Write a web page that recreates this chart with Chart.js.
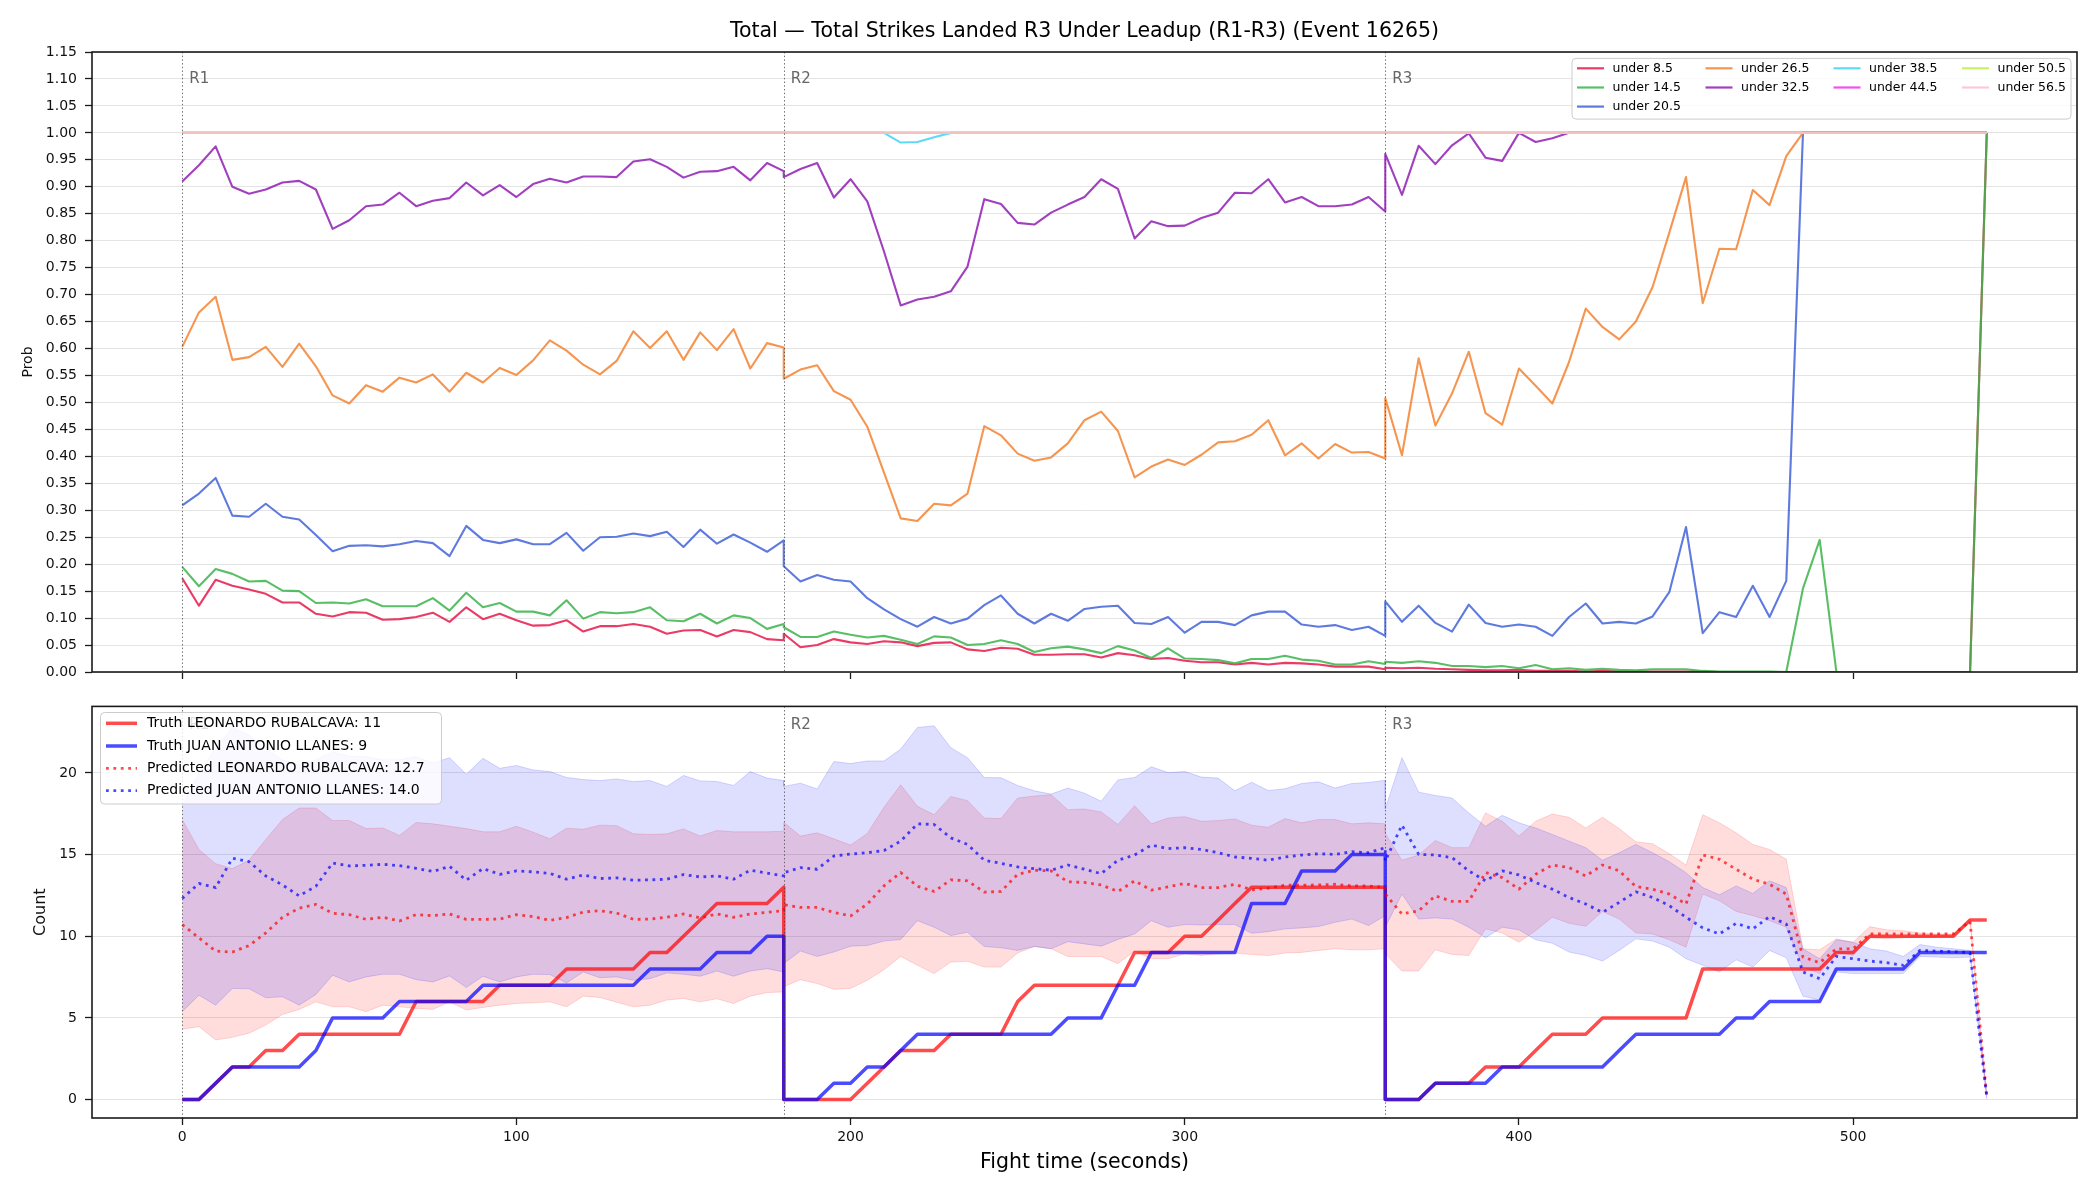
<!DOCTYPE html>
<html>
<head>
<meta charset="utf-8">
<script src="https://cdn.jsdelivr.net/npm/chart.js@4.4.1/dist/chart.umd.min.js"></script>
<style>
  html, body { margin: 0; padding: 0; background: #fff; }
  #wrap { position: relative; width: 2100px; height: 1200px; background: #fff; }
  canvas { position: absolute; left: 0; }
  #top { top: 0; }
  #bottom { top: 690px; }
</style>
</head>
<body>
<div id="wrap">
  <canvas id="top" width="2100" height="690"></canvas>
  <canvas id="bottom" width="2100" height="510"></canvas>
</div>
<script>
(function () {
  'use strict';

  const chartTitle = 'Total \u2014 Total Strikes Landed R3 Under Leadup (R1-R3) (Event 16265)';
  const roundNames = ['R1', 'R2', 'R3'];
  const roundStarts = [0, 180, 360];
  // samples every 5 s inside a round; the round end is repeated as the next round's start
  const roundOffsets = [0, 5, 10, 15, 20, 25, 30, 35, 40, 45, 50, 55, 60, 65, 70, 75, 80, 85, 90,
    95, 100, 105, 110, 115, 120, 125, 130, 135, 140, 145, 150, 155, 160, 165, 170, 175, 180];

  const xTicks = [0, 100, 200, 300, 400, 500];
  const probTicks = [0, 0.05, 0.1, 0.15, 0.2, 0.25, 0.3, 0.35, 0.4, 0.45, 0.5, 0.55, 0.6, 0.65,
    0.7, 0.75, 0.8, 0.85, 0.9, 0.95, 1, 1.05, 1.1, 1.15];
  const countTicks = [0, 5, 10, 15, 20];

  // ---- top panel: P(total under line) ----
  const underLabels = ['under 8.5', 'under 14.5', 'under 20.5', 'under 26.5', 'under 32.5',
    'under 38.5', 'under 44.5', 'under 50.5', 'under 56.5'];
  const underColors = ['rgba(230,25,75,0.85)', 'rgba(60,180,75,0.85)', 'rgba(67,99,216,0.85)',
    'rgba(245,130,49,0.85)', 'rgba(145,30,180,0.85)', 'rgba(66,212,244,0.85)',
    'rgba(240,50,230,0.85)', 'rgba(191,239,69,0.85)', 'rgba(250,190,212,0.85)'];

  const under85 = [
    .174,.123,.171,.160,.153,.145,.129,.129,.108,.103,.111,.110,.097,.098,.102,.110,.093,.120,.098,.108,.096,.086,.087,.096,.075,.085,.085,.089,.084,.071,.077,.078,.066,.078,.074,.061,.059,
    .071,.046,.050,.061,.055,.052,.057,.055,.048,.054,.055,.042,.039,.045,.043,.032,.032,.033,.033,.027,.035,.031,.024,.026,.021,.018,.018,.014,.017,.014,.017,.016,.014,.010,.010,.010,.005,
    .008,.007,.008,.006,.005,.004,.003,.003,.004,.002,.002,.002,.001,.002,.001,.001,.001,.001,.001,.001,0,0,0,0,0,0,0,0,0,0,0,0,0,0,0,0,1];
  const under145 = [
    .195,.159,.191,.182,.168,.169,.151,.150,.128,.129,.127,.135,.122,.122,.122,.137,.114,.147,.120,.128,.112,.112,.105,.133,.099,.111,.109,.111,.120,.096,.094,.108,.090,.105,.100,.080,.089,
    .083,.065,.065,.075,.069,.064,.067,.060,.052,.066,.064,.050,.052,.059,.052,.037,.044,.047,.042,.035,.048,.040,.026,.044,.025,.024,.022,.016,.024,.024,.030,.023,.021,.014,.014,.020,.015,
    .019,.017,.020,.017,.011,.011,.009,.011,.007,.013,.005,.007,.004,.006,.004,.003,.005,.005,.005,.002,.001,.001,.001,.001,0,.155,.245,0,0,0,0,0,0,0,0,0,1];
  const under205 = [
    .309,.331,.360,.290,.288,.312,.288,.283,.254,.224,.234,.235,.233,.237,.243,.239,.215,.271,.245,.239,.246,.237,.237,.258,.225,.250,.251,.257,.252,.260,.232,.264,.238,.255,.240,.223,.244,
    .196,.168,.180,.171,.168,.137,.116,.098,.084,.102,.090,.099,.124,.142,.108,.090,.108,.095,.117,.121,.123,.091,.089,.102,.073,.093,.093,.087,.105,.112,.112,.088,.084,.087,.078,.084,.067,
    .131,.093,.123,.091,.075,.125,.091,.084,.088,.084,.067,.102,.127,.090,.093,.090,.103,.148,.269,.072,.111,.102,.160,.102,.169,1,1,1,1,1,1,1,1,1,1,1,1];
  const under265 = [
    .603,.667,.696,.579,.584,.603,.566,.609,.567,.513,.498,.532,.520,.546,.537,.552,.520,.555,.537,.564,.551,.578,.615,.596,.570,.552,.577,.632,.601,.632,.579,.630,.597,.636,.563,.610,.602,
    .544,.561,.569,.521,.505,.455,.370,.285,.280,.312,.309,.331,.456,.439,.405,.392,.398,.424,.467,.483,.447,.361,.381,.394,.384,.403,.426,.428,.440,.467,.402,.424,.396,.423,.407,.408,.396,
    .508,.402,.582,.457,.517,.594,.480,.459,.563,.531,.498,.575,.674,.640,.617,.650,.714,.815,.918,.684,.785,.784,.894,.866,.957,1,1,1,1,1,1,1,1,1,1,1,1];
  const under325 = [
    .910,.940,.975,.900,.887,.895,.908,.911,.895,.822,.838,.864,.867,.889,.864,.874,.879,.908,.884,.903,.881,.905,.915,.908,.919,.919,.918,.947,.951,.937,.917,.928,.929,.937,.912,.944,.929,
    .918,.933,.944,.880,.914,.873,.780,.680,.691,.696,.706,.752,.877,.868,.833,.830,.852,.867,.881,.914,.896,.804,.836,.827,.828,.842,.852,.889,.888,.914,.871,.881,.864,.864,.867,.881,.854,
    .961,.885,.976,.942,.977,.999,.954,.948,1,.983,.990,1,1,1,1,1,1,1,1,1,1,1,1,1,1,1,1,1,1,1,1,1,1,1,1,1,1];
  const under385 = [
    1,1,1,1,1,1,1,1,1,1,1,1,1,1,1,1,1,1,1,1,1,1,1,1,1,1,1,1,1,1,1,1,1,1,1,1,1,
    1,1,1,1,1,1,1,.982,.983,.992,1,1,1,1,1,1,1,1,1,1,1,1,1,1,1,1,1,1,1,1,1,1,1,1,1,1,1,
    1,1,1,1,1,1,1,1,1,1,1,1,1,1,1,1,1,1,1,1,1,1,1,1,1,1,1,1,1,1,1,1,1,1,1,1,1];
  const under445 = [
    1,1,1,1,1,1,1,1,1,1,1,1,1,1,1,1,1,1,1,1,1,1,1,1,1,1,1,1,1,1,1,1,1,1,1,1,1,
    1,1,1,1,1,1,1,1,1,1,1,1,1,1,1,1,1,1,1,1,1,1,1,1,1,1,1,1,1,1,1,1,1,1,1,1,1,
    1,1,1,1,1,1,1,1,1,1,1,1,1,1,1,1,1,1,1,1,1,1,1,1,1,1,1,1,1,1,1,1,1,1,1,1,1];
  const under505 = [
    1,1,1,1,1,1,1,1,1,1,1,1,1,1,1,1,1,1,1,1,1,1,1,1,1,1,1,1,1,1,1,1,1,1,1,1,1,
    1,1,1,1,1,1,1,1,1,1,1,1,1,1,1,1,1,1,1,1,1,1,1,1,1,1,1,1,1,1,1,1,1,1,1,1,1,
    1,1,1,1,1,1,1,1,1,1,1,1,1,1,1,1,1,1,1,1,1,1,1,1,1,1,1,1,1,1,1,1,1,1,1,1,1];
  const under565 = [
    1,1,1,1,1,1,1,1,1,1,1,1,1,1,1,1,1,1,1,1,1,1,1,1,1,1,1,1,1,1,1,1,1,1,1,1,1,
    1,1,1,1,1,1,1,1,1,1,1,1,1,1,1,1,1,1,1,1,1,1,1,1,1,1,1,1,1,1,1,1,1,1,1,1,1,
    1,1,1,1,1,1,1,1,1,1,1,1,1,1,1,1,1,1,1,1,1,1,1,1,1,1,1,1,1,1,1,1,1,1,1,1,1];

  // ---- bottom panel: cumulative counts per round ----
  const fighterA = 'LEONARDO RUBALCAVA';
  const fighterB = 'JUAN ANTONIO LLANES';
  const finalTruthA = 11, finalTruthB = 9, finalPredA = 12.7, finalPredB = 14.0;

  const truthA = [
    0,0,1,2,2,3,3,4,4,4,4,4,4,4,6,6,6,6,6,7,7,7,7,8,8,8,8,8,9,9,10,11,12,12,12,12,13,
    0,0,0,0,0,1,2,3,3,3,4,4,4,4,6,7,7,7,7,7,7,9,9,9,10,10,11,12,13,13,13,13,13,13,13,13,13,
    0,0,0,1,1,1,2,2,2,3,4,4,4,5,5,5,5,5,5,8,8,8,8,8,8,8,8,9,9,10,10,10,10,10,10,11,11];
  const truthB = [
    0,0,1,2,2,2,2,2,3,5,5,5,5,6,6,6,6,6,7,7,7,7,7,7,7,7,7,7,8,8,8,8,9,9,9,10,10,
    0,0,0,1,1,2,2,3,4,4,4,4,4,4,4,4,4,5,5,5,7,7,9,9,9,9,9,9,12,12,12,14,14,14,15,15,15,
    0,0,0,1,1,1,1,2,2,2,2,2,2,2,3,4,4,4,4,4,4,5,5,6,6,6,6,8,8,8,8,8,9,9,9,9,9];
  const predA = [
    10.71,9.9,9.09,9.03,9.43,10.2,11.16,11.72,11.95,11.4,11.32,11.03,11.16,10.93,11.32,11.26,11.36,11.03,11.03,11.05,11.32,11.2,10.97,11.14,11.48,11.56,11.42,11.03,11.05,11.16,11.36,11.12,11.36,11.16,11.36,11.46,11.56,
    11.93,11.76,11.76,11.46,11.24,11.97,13.08,13.9,13.06,12.74,13.45,13.39,12.7,12.74,13.79,14.04,14.0,13.33,13.29,13.14,12.74,13.39,12.82,13.02,13.23,12.98,12.98,13.18,12.84,12.94,13.12,13.12,13.14,13.18,13.08,13.08,12.98,
    12.58,11.36,11.56,12.47,12.13,12.13,13.9,13.59,12.88,13.79,14.36,14.2,13.69,14.36,14.0,13.04,12.88,12.58,11.97,14.97,14.71,14.1,13.49,13.18,12.58,8.72,8.38,9.23,9.23,10.14,10.14,10.14,10.14,10.14,10.14,10.9,0.15];
  const predB = [
    12.31,13.23,12.98,14.77,14.56,13.69,13.14,12.47,13.06,14.48,14.3,14.34,14.4,14.32,14.16,13.96,14.28,13.43,14.14,13.79,14.0,13.94,13.85,13.49,13.75,13.53,13.57,13.43,13.45,13.49,13.77,13.63,13.69,13.49,14.04,13.87,13.69,
    13.89,14.2,14.1,14.91,15.03,15.11,15.25,15.82,16.88,16.84,16.02,15.62,14.65,14.46,14.24,14.14,14.04,14.36,14.1,13.83,14.65,14.97,15.58,15.36,15.42,15.31,15.11,14.85,14.77,14.65,14.85,14.97,15.05,15.01,15.17,15.11,15.42,
    14.6,16.8,15.01,14.97,14.81,14.0,13.39,14.0,13.75,13.29,12.88,12.37,11.97,11.46,12.07,12.72,12.37,11.87,11.16,10.51,10.14,10.79,10.45,11.2,10.75,7.81,7.4,8.76,8.62,8.48,8.38,8.22,9.13,9.09,9.05,8.99,0.15];
  const bandLowA = [
    4.3,4.46,3.65,3.81,4.06,4.56,5.21,5.52,5.98,5.68,5.68,5.38,5.78,5.68,5.58,5.52,5.98,5.48,5.64,5.78,5.88,5.92,5.98,5.68,6.33,6.25,5.96,5.68,5.78,6.09,6.19,5.98,6.17,5.88,6.33,6.55,6.59,
    6.9,7.34,7.1,6.75,6.8,7.3,7.95,8.76,8.22,7.71,8.42,8.46,8.11,8.11,8.97,9.37,9.23,8.76,8.76,8.76,8.32,9.09,8.62,8.62,8.92,8.82,8.92,8.97,8.88,8.82,8.97,9.01,9.13,9.23,9.17,9.17,9.23,
    8.92,7.87,7.87,9.17,8.88,8.82,10.45,10.2,9.63,10.34,11.16,10.79,10.61,11.52,11.05,10.2,10.14,9.78,9.33,12.58,12.17,11.52,11.26,10.95,10.55,8.11,7.71,9.03,8.82,9.9,9.84,9.9,9.94,9.98,9.98,10.85,0.05];
  const bandHighA = [
    17.14,15.31,14.44,14.14,14.65,15.92,17.14,17.85,17.85,17.08,17.08,16.59,16.63,16.17,16.96,16.88,16.73,16.59,16.39,16.39,16.73,16.37,15.96,16.61,16.55,16.8,16.77,16.27,16.23,16.27,16.57,16.13,16.47,16.39,16.39,16.39,16.43,
    16.98,16.13,16.33,15.96,15.58,16.29,17.89,19.27,17.95,17.44,18.56,18.3,17.24,17.2,18.46,18.58,18.66,17.75,17.79,17.61,16.84,17.99,16.88,17.24,17.32,17.04,17.08,17.18,16.8,16.67,17.2,16.94,17.14,17.14,16.88,16.94,16.88,
    16.3,14.65,14.97,15.86,15.42,15.42,17.55,17.04,16.13,17.04,17.48,17.28,16.63,17.28,16.59,15.78,15.66,15.05,14.36,17.44,16.94,16.33,15.62,15.31,14.71,9.23,9.17,9.84,9.63,10.59,10.39,10.34,10.2,10.14,10.14,11.05,0.3];
  const bandLowB = [
    5.38,6.39,5.78,6.8,6.78,6.23,6.29,5.78,6.43,7.61,7.2,7.51,7.67,7.67,7.34,7.2,7.57,6.86,7.55,7.2,7.51,7.67,7.65,7.14,7.81,7.46,7.51,7.3,7.4,7.75,7.67,7.55,7.87,7.55,7.87,8.01,7.81,
    8.32,9.09,8.76,9.03,9.39,9.43,9.7,9.8,10.95,10.55,10.04,10.24,9.37,9.29,9.13,9.37,9.23,9.66,9.53,9.39,9.8,10.14,10.95,10.55,10.71,10.69,10.71,10.71,10.18,10.28,10.45,10.51,10.59,10.85,11.05,10.65,11.26,
    10.55,12.58,11.05,11.12,11.05,10.55,9.9,10.55,10.39,9.78,9.57,9.03,8.82,8.48,9.13,9.84,9.7,9.33,8.62,8.22,7.81,8.56,8.11,9.13,8.68,6.33,6.09,7.81,7.71,7.71,7.71,7.71,8.76,8.72,8.68,8.72,0.05];
  const bandHighB = [
    18.0,20.0,21.5,22.8,22.3,21.5,20.8,20.5,20.8,21.3,21.0,21.0,20.8,20.8,21.0,20.6,20.93,19.92,20.89,20.28,20.45,20.18,20.08,19.72,19.59,19.53,19.63,19.47,19.53,19.17,19.84,19.51,19.47,19.23,20.08,19.68,19.53,
    19.17,19.37,19.01,20.69,20.57,20.73,20.73,21.46,22.78,22.88,21.54,20.93,19.72,19.7,19.23,18.9,18.7,19.07,18.76,18.26,19.57,19.72,20.37,20.02,20.08,19.74,19.68,18.9,19.43,18.92,19.03,19.35,19.45,19.07,19.35,19.41,19.55,
    17.8,20.93,18.82,18.62,18.46,17.55,16.73,17.4,16.94,16.63,16.23,15.82,15.42,14.65,15.11,15.62,15.11,14.56,13.89,12.98,12.54,13.08,12.62,13.39,12.98,9.23,8.62,9.78,9.63,9.23,9.09,8.76,9.49,9.33,9.23,9.13,0.3];

  const FONT = '"DejaVu Sans", "Liberation Sans", sans-serif';
  Chart.defaults.font.family = FONT;
  Chart.defaults.color = '#111';

  const time = [];
  roundStarts.forEach((s) => roundOffsets.forEach((o) => time.push(s + o)));
  const pts = (ys) => ys.map((y, i) => ({ x: time[i], y }));

  const RED = 'rgba(255,0,0,0.7)';
  const BLUE = 'rgba(0,0,255,0.7)';
  const DOT = [2.8, 4.6];

  function roundedRect(ctx, x, y, w, h, r) {
    ctx.beginPath();
    ctx.moveTo(x + r, y);
    ctx.lineTo(x + w - r, y);
    ctx.arcTo(x + w, y, x + w, y + r, r);
    ctx.lineTo(x + w, y + h - r);
    ctx.arcTo(x + w, y + h, x + w - r, y + h, r);
    ctx.lineTo(x + r, y + h);
    ctx.arcTo(x, y + h, x, y + h - r, r);
    ctx.lineTo(x, y + r);
    ctx.arcTo(x, y, x + r, y, r);
    ctx.closePath();
  }

  // dotted round boundaries + R labels
  function roundMarks(labelValue) {
    return {
      id: 'roundMarks',
      afterDatasetsDraw(chart) {
        const { ctx, chartArea: a, scales: { x, y } } = chart;
        ctx.save();
        ctx.strokeStyle = 'rgba(60,60,60,0.75)';
        ctx.lineWidth = 1;
        ctx.setLineDash([1.4, 2.3]);
        roundStarts.forEach((t) => {
          const px = Math.round(x.getPixelForValue(t)) + 0.5;
          ctx.beginPath();
          ctx.moveTo(px, a.top);
          ctx.lineTo(px, a.bottom);
          ctx.stroke();
        });
        ctx.setLineDash([]);
        ctx.fillStyle = '#666';
        ctx.font = '15px ' + FONT;
        ctx.textBaseline = 'middle';
        roundStarts.forEach((t, i) => {
          ctx.fillText(roundNames[i], x.getPixelForValue(t) + 7, y.getPixelForValue(labelValue));
        });
        ctx.restore();
      },
    };
  }

  function boxedLegend(box, items) {
    return {
      id: 'boxedLegend',
      afterDatasetsDraw(chart) {
        const ctx = chart.ctx;
        ctx.save();
        roundedRect(ctx, box.x, box.y, box.w, box.h, 4);
        ctx.fillStyle = 'rgba(255,255,255,0.8)';
        ctx.fill();
        ctx.strokeStyle = '#cccccc';
        ctx.lineWidth = 1;
        ctx.stroke();
        ctx.font = box.font + 'px ' + FONT;
        ctx.textBaseline = 'middle';
        items.forEach((it) => {
          ctx.strokeStyle = it.color;
          ctx.lineWidth = it.width;
          ctx.setLineDash(it.dash || []);
          ctx.beginPath();
          ctx.moveTo(it.x, it.y);
          ctx.lineTo(it.x + box.handle, it.y);
          ctx.stroke();
          ctx.setLineDash([]);
          ctx.fillStyle = '#000';
          ctx.fillText(it.text, it.x + box.gap, it.y);
        });
        ctx.restore();
      },
    };
  }

  const frame = {
    id: 'frame',
    afterDraw(chart) {
      const { ctx, chartArea: a } = chart;
      ctx.save();
      ctx.strokeStyle = '#1a1a1a';
      ctx.lineWidth = 1.6;
      ctx.strokeRect(a.left, a.top, a.right - a.left, a.bottom - a.top);
      ctx.restore();
    },
  };

  const titlePlugin = {
    id: 'figTitle',
    afterDraw(chart) {
      const { ctx, chartArea: a } = chart;
      ctx.save();
      ctx.fillStyle = '#000';
      ctx.font = '20.5px ' + FONT;
      ctx.textAlign = 'center';
      ctx.textBaseline = 'middle';
      ctx.fillText(chartTitle, (a.left + a.right) / 2, 32);
      ctx.restore();
    },
  };

  const setTicks = (vals) => (scale) => { scale.ticks = vals.map((v) => ({ value: v })); };
  const tickGrid = { tickLength: 7, tickColor: '#1a1a1a', tickWidth: 1.3 };

  // ---------- top chart ----------
  const underSeries = [under85, under145, under205, under265, under325, under385, under445, under505, under565];
  const topLegendItems = underLabels.map((label, i) => {
    const col = i < 3 ? 0 : Math.floor((i - 3) / 2) + 1;
    const row = i < 3 ? i : (i - 3) % 2;
    return { text: label, color: underColors[i], width: 2.2,
      x: [1577, 1705.5, 1833.5, 1962][col], y: [68.3, 87.5, 106.6][row] };
  });

  new Chart(document.getElementById('top'), {
    type: 'line',
    data: {
      datasets: underSeries.map((ys, i) => ({
        label: underLabels[i],
        data: pts(ys),
        borderColor: underColors[i],
        borderWidth: 2.1,
        borderJoinStyle: 'round',
        pointRadius: 0,
        tension: 0,
        fill: false,
        order: underSeries.length - i,
      })),
    },
    options: {
      responsive: false,
      devicePixelRatio: 1,
      animation: false,
      events: [],
      layout: { padding: { left: 0, right: 23, top: 52, bottom: 0 } },
      plugins: { legend: { display: false }, tooltip: { enabled: false } },
      scales: {
        x: {
          type: 'linear', min: -27, max: 567,
          afterBuildTicks: setTicks(xTicks),
          afterFit: (s) => { s.height = 18; },
          ticks: { callback: () => '' },
          grid: Object.assign({ drawOnChartArea: true, color: 'rgba(0,0,0,0)' }, tickGrid),
          border: { display: false },
        },
        y: {
          type: 'linear', min: 0, max: 1.15,
          afterBuildTicks: setTicks(probTicks),
          afterFit: (s) => { s.width = 92; },
          ticks: { callback: (v) => Number(v).toFixed(2), font: { size: 14 }, color: '#111', padding: 8 },
          grid: Object.assign({ color: '#e4e4e4', lineWidth: 1 }, tickGrid),
          border: { display: false },
          title: { display: true, text: 'Prob', font: { size: 14 }, color: '#111', padding: { top: 20, bottom: 0 } },
        },
      },
    },
    plugins: [roundMarks(1.10),
      boxedLegend({ x: 1572, y: 58.4, w: 499, h: 60.7, font: 12.5, handle: 27, gap: 35.5 }, topLegendItems),
      frame, titlePlugin],
  });

  // ---------- bottom chart ----------
  const line = (ys, color, width, dash, order, extra) => Object.assign({
    data: pts(ys), borderColor: color, borderWidth: width, borderDash: dash || [],
    borderJoinStyle: 'round', pointRadius: 0, tension: 0, fill: false, order,
  }, extra || {});

  const bottomLegendItems = [
    { text: `Truth ${fighterA}: ${finalTruthA}`, color: RED, width: 3.5 },
    { text: `Truth ${fighterB}: ${finalTruthB}`, color: BLUE, width: 3.5 },
    { text: `Predicted ${fighterA}: ${finalPredA.toFixed(1)}`, color: RED, width: 2.8, dash: DOT },
    { text: `Predicted ${fighterB}: ${finalPredB.toFixed(1)}`, color: BLUE, width: 2.8, dash: DOT },
  ].map((it, i) => Object.assign(it, { x: 106, y: [33.3, 56, 78.3, 100.7][i] }));

  new Chart(document.getElementById('bottom'), {
    type: 'line',
    data: {
      datasets: [
        line(bandLowA, 'rgba(255,0,0,0.15)', 1, null, 9),
        line(bandHighA, 'rgba(255,0,0,0.15)', 1, null, 8, { fill: '-1', backgroundColor: 'rgba(255,0,0,0.135)' }),
        line(bandLowB, 'rgba(0,0,255,0.15)', 1, null, 7),
        line(bandHighB, 'rgba(0,0,255,0.15)', 1, null, 6, { fill: '-1', backgroundColor: 'rgba(0,0,255,0.13)' }),
        line(truthA, RED, 3.5, null, 4),
        line(truthB, BLUE, 3.5, null, 3),
        line(predA, RED, 2.8, DOT, 2),
        line(predB, BLUE, 2.8, DOT, 1),
      ],
    },
    options: {
      responsive: false,
      devicePixelRatio: 1,
      animation: false,
      events: [],
      layout: { padding: { left: 0, right: 23, top: 14, bottom: 0 } },
      plugins: { legend: { display: false }, tooltip: { enabled: false }, filler: { propagate: false } },
      scales: {
        x: {
          type: 'linear', min: -27, max: 567,
          afterBuildTicks: setTicks(xTicks),
          afterFit: (s) => { s.height = 82; },
          ticks: { callback: (v) => String(v), font: { size: 14 }, color: '#111', padding: 4, maxRotation: 0, autoSkip: false },
          grid: Object.assign({ drawOnChartArea: true, color: 'rgba(0,0,0,0)' }, tickGrid),
          border: { display: false },
          title: { display: true, text: 'Fight time (seconds)', font: { size: 20.5 }, color: '#000', padding: { top: 0, bottom: 25 } },
        },
        y: {
          type: 'linear', min: -1.13, max: 24.07,
          afterBuildTicks: setTicks(countTicks),
          afterFit: (s) => { s.width = 92; },
          ticks: { callback: (v) => String(v), font: { size: 14 }, color: '#111', padding: 8 },
          grid: Object.assign({ color: '#e4e4e4', lineWidth: 1 }, tickGrid),
          border: { display: false },
          title: { display: true, text: 'Count', font: { size: 16 }, color: '#111', padding: { top: 31, bottom: 0 } },
        },
      },
    },
    plugins: [roundMarks(22.9),
      boxedLegend({ x: 100.5, y: 22.5, w: 341, h: 91.5, font: 14, handle: 31, gap: 41 }, bottomLegendItems),
      frame],
  });
})();
</script>
</body>
</html>
